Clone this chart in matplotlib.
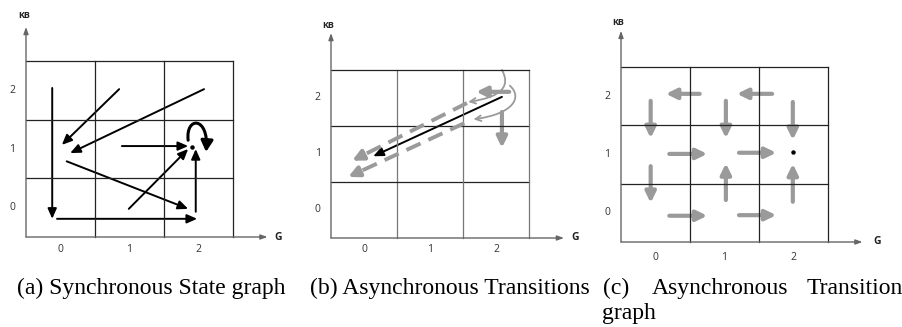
import numpy as np
import matplotlib
matplotlib.use("Agg")
from matplotlib import pyplot as plt
from matplotlib.patches import FancyArrowPatch
from matplotlib.path import Path

# states on each axis
states = [0, 1, 2]

# (a) synchronous state graph: (x0, y0, x1, y1) in (G, KB) units
sync_arrows = [
    (-0.12, 2.04, -0.12, -0.19),
    (-0.05, -0.19, 1.98, -0.19),
    (0.85, 2.02, 0.02, 1.07),
    (2.08, 2.02, 0.14, 0.93),
    (0.09, 0.79, 1.85, -0.02),
    (0.99, -0.02, 1.85, 1.00),
    (0.89, 1.05, 1.85, 1.05),
    (1.96, -0.07, 1.96, 1.00),
]
sync_loop = (1.85, 1.15, 2.11, 0.95)
sync_loop_top = 1.56
sync_fixed = (1.91, 1.03)

# (b) asynchronous transitions
async_black = [(2.09, 2.02, 0.14, 0.96)]
async_dashed = [
    (1.56, 1.91, -0.18, 0.88),
    (1.52, 1.55, -0.24, 0.59),
]
async_gray = [
    (2.20, 2.11, 1.70, 2.11),
    (2.09, 1.75, 2.09, 1.11),
]
# bezier hooks: P0, C1, C2, P3
async_hooks = [
    [(2.09, 2.50), (2.22, 2.22), (2.10, 2.02), (1.58, 1.93)],
    [(2.21, 2.22), (2.40, 2.02), (2.28, 1.72), (1.66, 1.62)],
]

# (c) asynchronous transition graph
trans_arrows = [
    (0.64, 2.04, 0.15, 2.04),
    (1.69, 2.04, 1.18, 2.04),
    (-0.07, 1.92, -0.07, 1.28),
    (1.02, 1.92, 1.02, 1.28),
    (1.99, 1.90, 1.99, 1.25),
    (0.20, 1.01, 0.75, 1.01),
    (1.21, 1.03, 1.75, 1.03),
    (-0.07, 0.80, -0.07, 0.17),
    (1.02, 0.22, 1.02, 0.85),
    (1.99, 0.19, 1.99, 0.84),
    (0.20, -0.05, 0.75, -0.05),
    (1.21, -0.04, 1.75, -0.04),
]
trans_fixed = (1.99, 1.04)

captions = ["(a) Synchronous State graph", "(b) Asynchronous Transitions"]
caption_c = ["(c)", "Asynchronous", "Transition"]
caption_c2 = "graph"

GRAY = "#9a9a9a"
W, H = 903, 327

fig = plt.figure(figsize=(W / 100, H / 100), dpi=100)


def px_axes(x0, y0, x1, y1):
    # pixel box (top-left origin) -> axes
    ax = fig.add_axes([x0 / W, (H - y1) / H, (x1 - x0) / W, (y1 - y0) / H])
    ax.set_xlim(-0.5, 2.5)
    ax.set_ylim(-0.5, 2.5)
    ax.axis("off")
    return ax


def frame(ax, xtop, ytop, kb_pos, g_pos, ylab_x, xlab_y, vcol="#222222"):
    edges = [-0.5, 0.5, 1.5, 2.5]
    for e in edges[1:]:
        ax.plot([e, e], [-0.5, 2.5], color=vcol, lw=0.9, clip_on=False)
        ax.plot([-0.5, 2.5], [e, e], color="#222222", lw=0.9, clip_on=False)
    # axes with arrow tips
    for tip in [(-0.5, ytop), (xtop, -0.5)]:
        ax.annotate("", xy=tip, xytext=(-0.5, -0.5),
                    arrowprops=dict(arrowstyle="-|>,head_length=0.5,head_width=0.18",
                                    color="#666666", lw=1.0, mutation_scale=8,
                                    shrinkA=0, shrinkB=0), annotation_clip=False)
    ax.text(*kb_pos, "KB", fontsize=6.5, fontweight="bold", family="Open Sans",
            ha="center", va="center", color="#222222", clip_on=False)
    ax.text(*g_pos, "G", fontsize=7.5, fontweight="bold", family="Open Sans",
            ha="center", va="center", color="#222222", clip_on=False)
    for s in states:
        ax.text(s, xlab_y, str(s), fontsize=7.5, family="Open Sans",
                ha="center", va="center", color="#333333", clip_on=False)
        ax.text(ylab_x, s, str(s), fontsize=7.5, family="Open Sans",
                ha="center", va="center", color="#333333", clip_on=False)


def arrow(ax, seg, color="black", lw=1.4, ms=12, hl=0.5, hw=0.22):
    x0, y0, x1, y1 = seg
    p = FancyArrowPatch((x0, y0), (x1, y1),
                        arrowstyle=f"-|>,head_length={hl},head_width={hw}",
                        mutation_scale=ms, color=color, lw=lw,
                        shrinkA=0, shrinkB=0, clip_on=False)
    ax.add_patch(p)


def gray_arrow(ax, seg):
    arrow(ax, seg, color=GRAY, lw=3.0, ms=14, hl=0.45, hw=0.22)


# ---- (a)
ax_a = px_axes(26, 61, 233, 237)
frame(ax_a, 3.0, 3.08, (-0.53, 3.27), (3.15, -0.5), -0.70, -0.72)
for seg in sync_arrows:
    arrow(ax_a, seg)
x0, y0, x1, y1 = sync_loop
loop_path = Path([(x0, y0), (x0 - 0.04, sync_loop_top), (x1 + 0.04, sync_loop_top), (x1, y1)],
                 [Path.MOVETO, Path.CURVE4, Path.CURVE4, Path.CURVE4])
ax_a.add_patch(FancyArrowPatch(path=loop_path,
                               arrowstyle="-|>,head_length=0.55,head_width=0.3",
                               mutation_scale=12, color="black", lw=2.2))
ax_a.plot(*sync_fixed, "o", color="black", ms=2.2)

# ---- (b)
ax_b = px_axes(331, 70, 529, 238)
frame(ax_b, 3.03, 3.16, (-0.55, 3.29), (3.2, -0.5), -0.70, -0.71, vcol="#777777")
for seg in async_dashed:
    x0, y0, x1, y1 = seg
    f = 0.92
    xm, ym = x0 + f * (x1 - x0), y0 + f * (y1 - y0)
    ax_b.plot([x0, xm], [y0, ym], color=GRAY, lw=2.8, ls=(0, (4, 2.2)),
              solid_capstyle="butt", dash_capstyle="butt")
    gray_arrow(ax_b, (xm, ym, x1, y1))
for seg in async_black:
    arrow(ax_b, seg)
for seg in async_gray:
    gray_arrow(ax_b, seg)
for pts in async_hooks:
    hp = Path(pts, [Path.MOVETO, Path.CURVE4, Path.CURVE4, Path.CURVE4])
    ax_b.add_patch(FancyArrowPatch(path=hp,
                                   arrowstyle="->,head_length=0.4,head_width=0.2",
                                   mutation_scale=10, color=GRAY, lw=1.3,
                                   clip_on=False))

# ---- (c)
ax_c = px_axes(621, 67, 828, 242)
frame(ax_c, 3.0, 3.12, (-0.54, 3.27), (3.21, -0.5), -0.70, -0.76)
for seg in trans_arrows:
    gray_arrow(ax_c, seg)
ax_c.plot(*trans_fixed, "o", color="black", ms=2.2)

# ---- captions
cap_kw = dict(fontsize=17, family="Liberation Serif", va="baseline", color="black")
fig.text(17 / W, (H - 294) / H, captions[0], **cap_kw)
fig.text(310 / W, (H - 294) / H, captions[1], **cap_kw)
for word, x in zip(caption_c, [603, 652, 807]):
    fig.text(x / W, (H - 294) / H, word, **cap_kw)
fig.text(602 / W, (H - 319) / H, caption_c2, **cap_kw)

fig.savefig("out.png", dpi=100)
